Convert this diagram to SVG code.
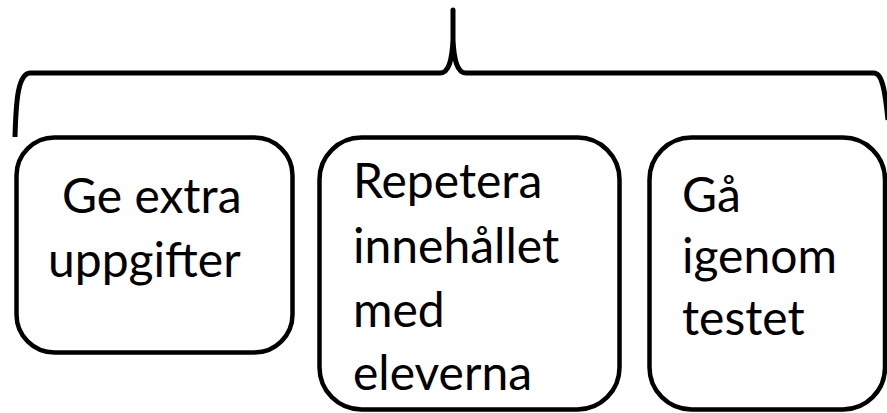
<svg xmlns="http://www.w3.org/2000/svg" width="887" height="413" viewBox="0 0 887 413">
<style>
.box{fill:#fff;stroke:#000;stroke-width:4.5}
.brace{fill:none;stroke:#000;stroke-width:5;stroke-linejoin:round}
text{font-family:Lato,"Open Sans","Liberation Sans",sans-serif;font-size:48px;fill:#000}
</style>
<rect width="887" height="413" fill="#fff"/>
<g id="connectors">
<path class="brace" d="M15,137 C16,100 18,74 30,73 L440,73 C449,73 452,60 453,40 L453,10 L453,40 C454,60 457,73 466,73 L874,73 C882,73 885,90 888,120"/>
</g>
<g id="node1">
<rect class="box" x="16.5" y="137.5" width="276" height="215" rx="38"/>
<text x="62" y="213">Ge extra</text>
<text x="48" y="277">uppgifter</text>
</g>
<g id="node2">
<rect class="box" x="319.5" y="137.5" width="300" height="272" rx="42"/>
<text x="353" y="198">Repetera</text>
<text x="353" y="263">innehållet</text>
<text x="353" y="327">med</text>
<text x="353" y="390">eleverna</text>
</g>
<g id="node3">
<rect class="box" x="649.5" y="137.5" width="235.5" height="272" rx="42"/>
<text x="682" y="212">Gå</text>
<text x="682" y="273">igenom</text>
<text x="682" y="335">testet</text>
</g>
</svg>
